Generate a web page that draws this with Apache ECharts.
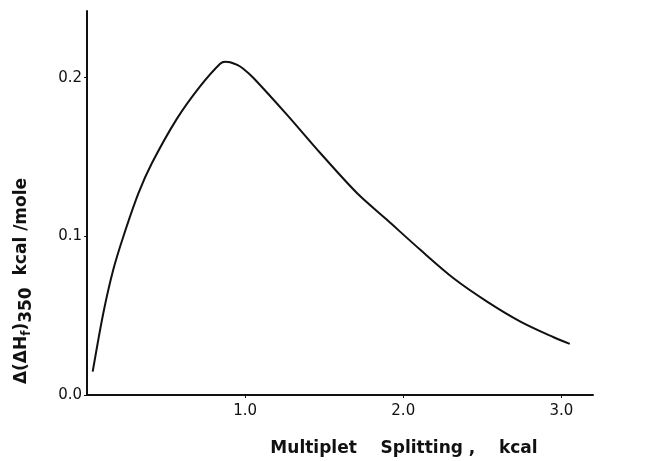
<!DOCTYPE html>
<html>
<head>
<meta charset="utf-8">
<script src="https://cdn.jsdelivr.net/npm/echarts@6/dist/echarts.min.js"></script>
<style>html,body{margin:0;padding:0;background:#fff}#c{width:645px;height:461px}</style>
</head>
<body>
<div id="c"></div>
<script>
const splitting = [0.036, 0.103, 0.166, 0.230, 0.325, 0.410, 0.568, 0.715, 0.842, 0.875, 0.905, 0.950, 0.990, 1.053, 1.264, 1.475, 1.707, 1.897, 2.108, 2.318, 2.530, 2.741, 2.951, 3.053];
const deltaH = [0.0147, 0.0515, 0.0789, 0.0999, 0.1270, 0.1460, 0.1740, 0.1945, 0.2088, 0.2100, 0.2097, 0.2080, 0.2055, 0.1998, 0.1767, 0.1525, 0.1273, 0.1104, 0.0915, 0.0736, 0.0589, 0.0463, 0.0364, 0.0322];
const xTicks = [1.0, 2.0, 3.0];
const yTicks = [0.0, 0.1, 0.2];
const xTitle = 'Multiplet    Splitting ,    kcal';
const yTitleParts = ['Δ(ΔH', 'f', ')', '350', '  kcal /mole'];

const FONT = '"DejaVu Sans", sans-serif';
const chart = echarts.init(document.getElementById('c'), null, {renderer: 'canvas'});
chart.setOption({
  animation: false,
  backgroundColor: '#fff',
  grid: {left: 87, right: 52, top: 11, bottom: 66},
  xAxis: {
    type: 'value', min: 0, max: 3.2,
    axisLine: {lineStyle: {color: '#111', width: 2}},
    axisTick: {show: true, length: 3, customValues: xTicks, lineStyle: {color: '#111'}},
    axisLabel: {customValues: xTicks, margin: 9, fontFamily: FONT, fontSize: 15, color: '#111', formatter: v => v.toFixed(1)},
    splitLine: {show: false}
  },
  yAxis: {
    type: 'value', min: 0, max: 0.242,
    axisLine: {show: true, lineStyle: {color: '#111', width: 2}},
    axisTick: {show: true, length: 3, customValues: yTicks, lineStyle: {color: '#111'}},
    axisLabel: {customValues: yTicks, margin: 5, fontFamily: FONT, fontSize: 15, color: '#111', formatter: v => v.toFixed(1)},
    splitLine: {show: false}
  },
  graphic: [
    {
      type: 'text', x: 404, y: 449,
      style: {text: xTitle, fill: '#111', font: 'bold 17px "DejaVu Sans", sans-serif', align: 'center', verticalAlign: 'middle'}
    },
    {
      type: 'text', x: 22, y: 281, rotation: Math.PI / 2,
      style: {
        text: '{n|' + yTitleParts[0] + '}{s|' + yTitleParts[1] + '}{n|' + yTitleParts[2] + '}{t|' + yTitleParts[3] + '}{n|' + yTitleParts[4] + '}',
        align: 'center', verticalAlign: 'middle', fill: '#111',
        rich: {
          n: {fontFamily: FONT, fontSize: 17, fontWeight: 'bold', fill: '#111'},
          s: {fontFamily: FONT, fontSize: 12, fontWeight: 'bold', fill: '#111', padding: [10, 0, 0, 0]},
          t: {fontFamily: FONT, fontSize: 17, fontWeight: 'bold', fill: '#111', padding: [10, 0, 0, 0]}
        }
      }
    }
  ],
  series: [{
    type: 'line',
    data: splitting.map((x, i) => [x, deltaH[i]]),
    smooth: 0.3,
    showSymbol: false,
    lineStyle: {color: '#111', width: 2}
  }]
});
</script>
</body>
</html>
